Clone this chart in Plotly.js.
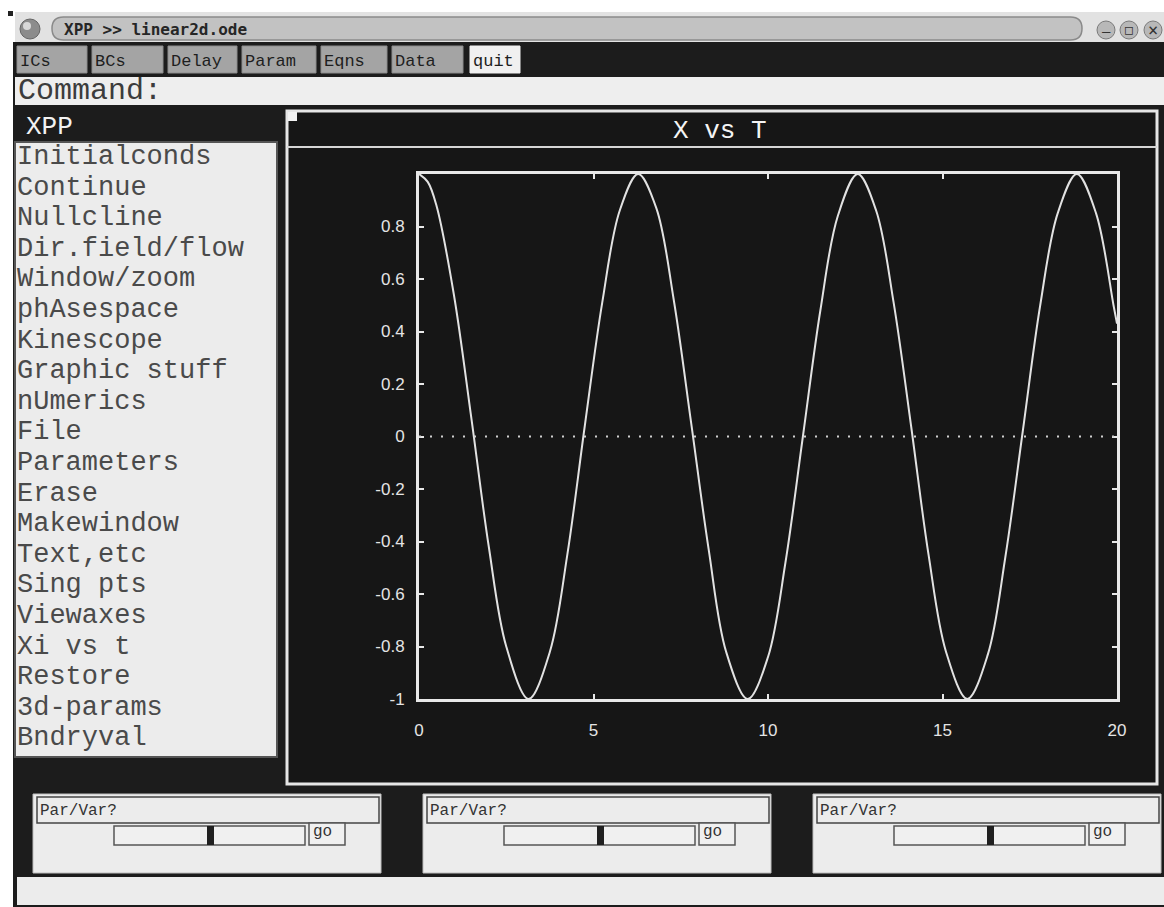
<!DOCTYPE html>
<html>
<head>
<meta charset="utf-8">
<script src="https://cdn.plot.ly/plotly-3.0.1.min.js"></script>
<style>html,body{margin:0;padding:0;background:#fff;}#chart{width:1164px;height:907px;}</style>
</head>
<body>
<div id="chart"></div>
<script>
// ---- data ----
const tValues = [0, 0.25, 0.5, 1, 1.5, 2, 2.5, 3.14, 3.75, 4.25, 4.75, 5.25, 5.75, 6.28, 6.8, 7.3, 7.8, 8.3, 8.8, 9.42, 10, 10.5, 11, 11.5, 12, 12.57, 13.1, 13.6, 14.1, 14.6, 15.1, 15.71, 16.3, 16.8, 17.3, 17.8, 18.3, 18.85, 19.4, 19.9, 20];
const xValues = [1.00, 0.97, 0.88, 0.54, 0.07, -0.42, -0.80, -1.00, -0.82, -0.45, 0.04, 0.51, 0.86, 1.00, 0.87, 0.52, 0.05, -0.43, -0.82, -1.00, -0.84, -0.48, 0.00, 0.48, 0.84, 1.00, 0.86, 0.51, 0.04, -0.45, -0.82, -1.00, -0.83, -0.46, 0.02, 0.50, 0.85, 1.00, 0.85, 0.50, 0.43];
const xTickVals = [0, 5, 10, 15, 20];
const xTickText = ["0", "5", "10", "15", "20"];
const yTickVals = [-1, -0.8, -0.6, -0.4, -0.2, 0, 0.2, 0.4, 0.6, 0.8];
const yTickText = ["-1", "-0.8", "-0.6", "-0.4", "-0.2", "0", "0.2", "0.4", "0.6", "0.8"];
const menuButtons = ["ICs", "BCs", "Delay", "Param", "Eqns", "Data", "quit"];
const menuItems = ["Initialconds", "Continue", "Nullcline", "Dir.field/flow", "Window/zoom", "phAsespace", "Kinescope", "Graphic stuff", "nUmerics", "File", "Parameters", "Erase", "Makewindow", "Text,etc", "Sing pts", "Viewaxes", "Xi vs t", "Restore", "3d-params", "Bndryval"];
const windowTitle = "XPP >> linear2d.ode";
const plotTitle = "X vs T";
const sliderLabel = "Par/Var?";

// ---- layout helpers (pixel -> paper) ----
const W = 1164, H = 907;
const X = x => x / W, Y = y => 1 - y / H;
const shapes = [], annotations = [];
const MONO = "DejaVu Sans Mono";
const THIN = "Liberation Mono";
function rect(x0, y0, x1, y1, fill, lc, lw) {
  shapes.push({type: 'rect', xref: 'paper', yref: 'paper', x0: X(x0), x1: X(x1), y0: Y(y1), y1: Y(y0),
    fillcolor: fill, line: {color: lc || fill, width: lw || 0}, layer: 'below'});
}
function circ(cx, cy, r, fill, lc, lw) {
  shapes.push({type: 'circle', xref: 'paper', yref: 'paper', x0: X(cx - r), x1: X(cx + r), y0: Y(cy + r), y1: Y(cy - r),
    fillcolor: fill, line: {color: lc || fill, width: lw || 0}, layer: 'below'});
}
function hline(x0, x1, y, color, w) {
  shapes.push({type: 'line', xref: 'paper', yref: 'paper', x0: X(x0), x1: X(x1), y0: Y(y), y1: Y(y),
    line: {color: color, width: w}, layer: 'below'});
}
function txt(x, y, s, size, color, xanchor, family) {
  annotations.push({xref: 'paper', yref: 'paper', x: X(x), y: Y(y), text: s, showarrow: false,
    xanchor: xanchor || 'left', yanchor: 'middle', font: {family: family || MONO, size: size, color: color}});
}
const P = (x, y) => X(x) + ',' + Y(y);

// title bar
rect(15, 12, 1164, 42, '#e2e2e2');
rect(8, 11, 13, 16, '#222');
circ(30, 29, 10, '#8c8c8c', '#666', 1);
circ(27, 26, 4, '#d8d8d8');
(function () {
  const x0 = 52, x1 = 1082, y0 = 17, y1 = 40, ym = (y0 + y1) / 2, r = 11.5;
  shapes.push({type: 'path', xref: 'paper', yref: 'paper', layer: 'below',
    path: 'M' + P(x0 + r, y0) + ' L' + P(x1 - r, y0) + ' Q' + P(x1, y0) + ' ' + P(x1, ym) + ' Q' + P(x1, y1) + ' ' + P(x1 - r, y1) +
      ' L' + P(x0 + r, y1) + ' Q' + P(x0, y1) + ' ' + P(x0, ym) + ' Q' + P(x0, y0) + ' ' + P(x0 + r, y0) + ' Z',
    fillcolor: '#c2c2c2', line: {color: '#8a8a8a', width: 1.5}});
})();
annotations.push({xref: 'paper', yref: 'paper', x: X(62), y: Y(29), text: '<b>' + windowTitle.replace(/>/g, '&gt;') + '</b>',
  showarrow: false, xanchor: 'left', yanchor: 'middle', font: {family: MONO, size: 16, color: '#262626'}});
[1106, 1129, 1153].forEach(cx => circ(cx, 30, 9, '#b8b8b8', '#7a7a7a', 1));
txt(1106, 31, '–', 14, '#333', 'center');
txt(1129, 30, '□', 13, '#333', 'center');
txt(1153, 30, '×', 17, '#333', 'center');

// dark window body
rect(13, 42, 1164, 907, '#1c1c1c');

// menu buttons
const btnX = [[17, 87], [92, 163], [168, 237], [242, 316], [321, 387], [392, 463], [470, 520]];
menuButtons.forEach((b, i) => {
  const q = i === menuButtons.length - 1;
  rect(btnX[i][0], 46, btnX[i][1], 73, q ? '#f0f0f0' : '#a4a4a4', q ? '#f0f0f0' : '#8c8c8c', 1);
  txt(btnX[i][0] + 1, 61, b, 17, '#1e1e1e', 'left', THIN);
});

// command line
rect(15, 77, 1164, 105, '#eeeeee');
txt(16, 91, 'Command:', 30, '#3c3c3c', 'left', THIN);

// left menu
txt(24, 127, 'XPP', 26, '#f2f2f2', 'left', THIN);
rect(15, 142, 277, 757, '#ececec', '#555', 2);
menuItems.forEach((m, i) => txt(15, 157 + i * 30.6, m, 27, '#4a4a4a', 'left', THIN));

// graph window
rect(287, 111, 1157, 784, '#161616', '#e6e6e6', 3);
hline(287, 1157, 147, '#d6d6d6', 2);
rect(288, 112, 297, 121, '#f2f2f2');
txt(720, 131, plotTitle, 26, '#f4f4f4', 'center', THIN);

// slider panels
[33, 423, 813].forEach(x0 => {
  rect(x0, 794, x0 + 348, 873, '#ececec', '#bdbdbd', 1);
  rect(x0 + 4, 797, x0 + 346, 823, '#ececec', '#444', 1.5);
  rect(x0 + 81, 826, x0 + 272, 845, '#f0f0f0', '#555', 1.5);
  rect(x0 + 174, 826, x0 + 181, 845, '#202020');
  rect(x0 + 276, 823, x0 + 312, 845, '#f0f0f0', '#555', 1.5);
  txt(x0 + 5, 811, sliderLabel, 16, '#333', 'left', THIN);
  txt(x0 + 278, 832, 'go', 16, '#333', 'left', THIN);
});

// status bar
rect(17, 877, 1164, 905, '#ececec');

// zero reference line (dotted)
shapes.push({type: 'line', xref: 'x', yref: 'y', x0: 0, x1: 20, y0: 0, y1: 0,
  line: {color: '#d0d0d0', width: 2, dash: '2px,9px'}, layer: 'above'});

const axisCommon = {
  showline: true, linecolor: '#e8e8e8', linewidth: 3, mirror: 'allticks',
  ticks: 'inside', ticklen: 5, tickwidth: 2, tickcolor: '#e8e8e8',
  showgrid: false, zeroline: false, fixedrange: true,
  tickfont: {family: 'Liberation Sans', size: 17, color: '#e4e4e4'}
};

const layout = {
  width: W, height: H, margin: {l: 0, r: 0, t: 0, b: 0},
  paper_bgcolor: '#ffffff', plot_bgcolor: 'rgba(0,0,0,0)', showlegend: false,
  xaxis: Object.assign({}, axisCommon, {domain: [X(419), X(1117)], range: [0, 20], tickvals: xTickVals, ticktext: xTickText, ticklabelstandoff: 14}),
  yaxis: Object.assign({}, axisCommon, {domain: [Y(699), Y(174)], range: [-1, 1], tickvals: yTickVals, ticktext: yTickText, ticklabelstandoff: 8}),
  shapes: shapes, annotations: annotations
};

const trace = {x: tValues, y: xValues, type: 'scatter', mode: 'lines',
  line: {color: '#e2e2e2', width: 2, shape: 'spline', smoothing: 1}, hoverinfo: 'skip'};

Plotly.newPlot('chart', [trace], layout, {staticPlot: true, displayModeBar: false});
</script>
</body>
</html>
